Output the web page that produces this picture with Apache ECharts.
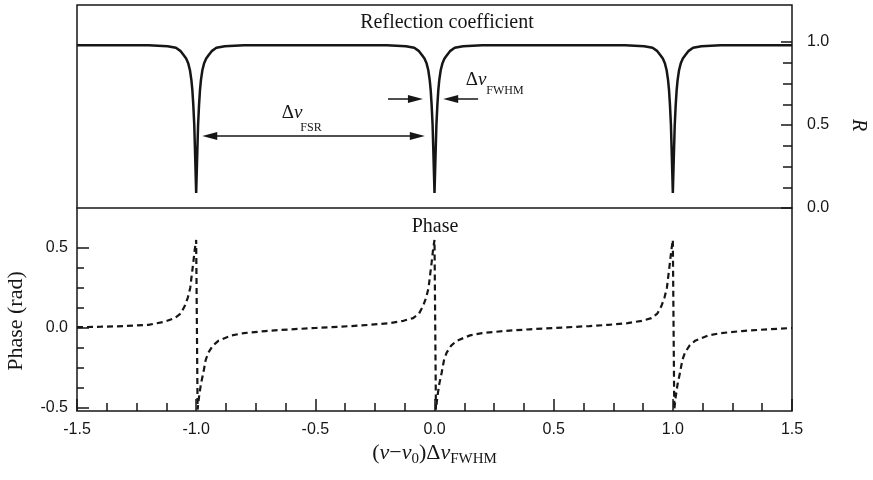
<!DOCTYPE html>
<html>
<head>
<meta charset="utf-8">
<script src="https://cdn.jsdelivr.net/npm/echarts@6/dist/echarts.min.js"></script>
<style>html,body{margin:0;padding:0;background:#fff;}#c{width:873px;height:480px;}</style>
</head>
<body>
<div id="c"></div>
<script>
// Reflection coefficient R vs detuning
const xR = [
-1.5,-1.3,-1.2,-1.12,-1.085,-1.065,-1.052,-1.042,-1.033,-1.026,-1.02,-1.016,-1.012,-1.008,-1.004,-1.0,-0.996,-0.992,-0.988,-0.984,-0.98,-0.974,-0.967,-0.958,-0.948,-0.935,-0.915,-0.88,-0.8,-0.7,
-0.5,-0.3,-0.2,-0.12,-0.085,-0.065,-0.052,-0.042,-0.033,-0.026,-0.02,-0.016,-0.012,-0.008,-0.004,0.0,0.004,0.008,0.012,0.016,0.02,0.026,0.033,0.042,0.052,0.065,0.085,0.12,0.2,0.3,
0.5,0.7,0.8,0.88,0.915,0.935,0.948,0.958,0.967,0.974,0.98,0.984,0.988,0.992,0.996,1.0,1.004,1.008,1.012,1.016,1.02,1.026,1.033,1.042,1.052,1.065,1.085,1.12,1.2,1.3,1.5];
const R = [
0.98,0.98,0.98,0.975,0.965,0.945,0.92,0.9,0.87,0.83,0.77,0.71,0.62,0.5,0.3,0.09,0.3,0.5,0.62,0.71,0.77,0.83,0.87,0.9,0.92,0.945,0.965,0.975,0.98,0.98,
0.98,0.98,0.98,0.975,0.965,0.945,0.92,0.9,0.87,0.83,0.77,0.71,0.62,0.5,0.3,0.09,0.3,0.5,0.62,0.71,0.77,0.83,0.87,0.9,0.92,0.945,0.965,0.975,0.98,0.98,
0.98,0.98,0.98,0.975,0.965,0.945,0.92,0.9,0.87,0.83,0.77,0.71,0.62,0.5,0.3,0.09,0.3,0.5,0.62,0.71,0.77,0.83,0.87,0.9,0.92,0.945,0.965,0.975,0.98,0.98,0.98];

// Phase (rad) vs detuning
const xP = [
-1.5,-1.4,-1.3,-1.2,-1.13,-1.09,-1.065,-1.048,-1.035,-1.025,-1.019,-1.012,-1.006,-1.0,
-0.994,-0.988,-0.98,-0.97,-0.96,-0.949,-0.93,-0.907,-0.851,-0.8,-0.71,-0.6,
-0.5,-0.35,-0.27,-0.19,-0.13,-0.09,-0.065,-0.048,-0.035,-0.025,-0.019,-0.012,-0.006,0.0,
0.006,0.012,0.02,0.03,0.04,0.051,0.07,0.093,0.149,0.2,0.29,0.4,
0.5,0.65,0.73,0.81,0.87,0.91,0.935,0.952,0.965,0.975,0.981,0.988,0.994,1.0,
1.006,1.012,1.02,1.03,1.04,1.051,1.07,1.093,1.149,1.2,1.29,1.4,1.5];
const P = [
0.005,0.008,0.012,0.02,0.04,0.062,0.09,0.137,0.19,0.25,0.325,0.41,0.49,0.55,
-0.51,-0.43,-0.35,-0.28,-0.2,-0.154,-0.11,-0.08,-0.046,-0.032,-0.019,-0.008,
0.0,0.012,0.02,0.03,0.045,0.062,0.09,0.137,0.19,0.25,0.325,0.41,0.49,0.55,
-0.51,-0.43,-0.35,-0.28,-0.2,-0.154,-0.11,-0.08,-0.046,-0.032,-0.019,-0.008,
0.0,0.012,0.02,0.03,0.045,0.062,0.09,0.137,0.19,0.25,0.325,0.41,0.49,0.55,
-0.51,-0.43,-0.35,-0.28,-0.2,-0.154,-0.11,-0.08,-0.046,-0.032,-0.019,-0.008,0.0];

// Annotation arrows (data units): [xFrom, xTo, R level]
const fsrArrow = [-0.943, -0.072, 0.434];
const fwhmLeft = [-0.195, -0.08, 0.657];
const fwhmRight = [0.183, 0.068, 0.657];

const INK = '#161616';
const SERIF = '"Liberation Serif", "Times New Roman", serif';
const SANS = '"Liberation Sans", Arial, sans-serif';

const chart = echarts.init(document.getElementById('c'), null, {renderer: 'canvas'});
const fmt = v => Number(v).toFixed(1);

chart.setOption({
  backgroundColor: '#ffffff',
  animation: false,
  grid: [
    {left: 77, right: 81, top: 5, bottom: 69, outerBoundsMode: 'none', containLabel: false, show: true, borderColor: INK, borderWidth: 1.5, backgroundColor: 'transparent'},
    {left: 77, right: 81, top: 42, bottom: 272, outerBoundsMode: 'none', containLabel: false},
    {left: 77, right: 81, top: 248, bottom: 72, outerBoundsMode: 'none', containLabel: false}
  ],
  xAxis: [
    {gridIndex: 0, type: 'value', min: -1.5, max: 1.5, show: false},
    {gridIndex: 1, type: 'value', min: -1.5, max: 1.5, position: 'bottom',
      axisLine: {show: true, onZero: false, lineStyle: {color: INK, width: 1.5}},
      axisTick: {show: false}, axisLabel: {show: false}, splitLine: {show: false}},
    {gridIndex: 2, type: 'value', min: -1.5, max: 1.5, interval: 0.5, position: 'bottom', offset: 3,
      axisLine: {show: false, onZero: false},
      axisTick: {show: true, inside: true, length: 12, lineStyle: {color: INK, width: 1.5}},
      minorTick: {show: true, splitNumber: 4, length: 8, lineStyle: {color: INK, width: 1.5}},
      axisLabel: {show: true, margin: 11, color: INK, fontFamily: SANS, fontSize: 16, formatter: fmt},
      splitLine: {show: false},
      name: '{n|(}{i|ν}{n|−}{i|ν}{s|0}{n|)Δ}{i|ν}{s|FWHM}',
      nameLocation: 'middle', nameGap: 28,
      nameTextStyle: {
        rich: {
          n: {fontFamily: SERIF, fontSize: 22, lineHeight: 28, color: INK},
          i: {fontFamily: SERIF, fontSize: 22, lineHeight: 28, fontStyle: 'italic', color: INK},
          s: {fontFamily: SERIF, fontSize: 15, lineHeight: 12, verticalAlign: 'bottom', color: INK}
        }
      }}
  ],
  yAxis: [
    {gridIndex: 0, type: 'value', min: 0, max: 1, show: false},
    {gridIndex: 1, type: 'value', min: 0, max: 1, interval: 0.5, position: 'right',
      axisLine: {show: false, onZero: false},
      axisTick: {show: true, inside: true, length: 11, lineStyle: {color: INK, width: 1.5}},
      minorTick: {show: true, splitNumber: 4, length: 9, lineStyle: {color: INK, width: 1.5}},
      axisLabel: {show: true, margin: 15, color: INK, fontFamily: SANS, fontSize: 16, formatter: fmt},
      splitLine: {show: false},
      name: 'R', nameLocation: 'middle', nameGap: 56, nameRotate: -90,
      nameTextStyle: {fontFamily: SERIF, fontStyle: 'italic', fontSize: 20, color: INK}},
    {gridIndex: 2, type: 'value', min: -0.5, max: 0.5, interval: 0.5, position: 'left',
      axisLine: {show: false, onZero: false},
      axisTick: {show: true, inside: true, length: 12, lineStyle: {color: INK, width: 1.5}},
      minorTick: {show: true, splitNumber: 4, length: 7, lineStyle: {color: INK, width: 1.5}},
      axisLabel: {show: true, margin: 9, color: INK, fontFamily: SANS, fontSize: 16, formatter: fmt},
      splitLine: {show: false},
      name: 'Phase (rad)', nameLocation: 'middle', nameGap: 50,
      nameTextStyle: {fontFamily: SERIF, fontSize: 22, color: INK, padding: [0, 0, 0, 14]}}
  ],
  series: [
    {type: 'line', xAxisIndex: 1, yAxisIndex: 1, showSymbol: false, clip: false, silent: true,
      data: xR.map((x, i) => [x, R[i]]),
      lineStyle: {color: INK, width: 2.5},
      markLine: {
        silent: true, animation: false,
        symbol: ['triangle', 'triangle'], symbolSize: [8, 15],
        label: {show: false},
        lineStyle: {color: INK, width: 1.5, type: 'solid'},
        data: [
          [{coord: [fsrArrow[0], fsrArrow[2]]}, {coord: [fsrArrow[1], fsrArrow[2]]}],
          [{coord: [fwhmLeft[0], fwhmLeft[2]], symbol: 'none'}, {coord: [fwhmLeft[1], fwhmLeft[2]]}],
          [{coord: [fwhmRight[0], fwhmRight[2]], symbol: 'none'}, {coord: [fwhmRight[1], fwhmRight[2]]}]
        ]
      }},
    {type: 'line', xAxisIndex: 2, yAxisIndex: 2, showSymbol: false, clip: false, silent: true,
      data: xP.map((x, i) => [x, P[i]]),
      lineStyle: {color: INK, width: 2.2, type: [6, 4]}}
  ],
  graphic: [
    {type: 'text', x: 447, y: 23, style: {text: 'Reflection coefficient', font: '20px ' + SERIF, fill: INK, align: 'center', verticalAlign: 'middle'}},
    {type: 'text', x: 435, y: 227, style: {text: 'Phase', font: '20px ' + SERIF, fill: INK, align: 'center', verticalAlign: 'middle'}},
    {type: 'text', x: 292, y: 113, style: {text: '{a|Δ}{b|ν}', align: 'center', verticalAlign: 'middle',
      rich: {a: {fontFamily: SERIF, fontSize: 19, fill: INK}, b: {fontFamily: SERIF, fontSize: 19, fontStyle: 'italic', fill: INK}}}},
    {type: 'text', x: 311, y: 128, style: {text: 'FSR', font: '12px ' + SERIF, fill: INK, align: 'center', verticalAlign: 'middle'}},
    {type: 'text', x: 476, y: 80, style: {text: '{a|Δ}{b|ν}', align: 'center', verticalAlign: 'middle',
      rich: {a: {fontFamily: SERIF, fontSize: 19, fill: INK}, b: {fontFamily: SERIF, fontSize: 19, fontStyle: 'italic', fill: INK}}}},
    {type: 'text', x: 505, y: 91, style: {text: 'FWHM', font: '12px ' + SERIF, fill: INK, align: 'center', verticalAlign: 'middle'}}
  ]
});
</script>
</body>
</html>
